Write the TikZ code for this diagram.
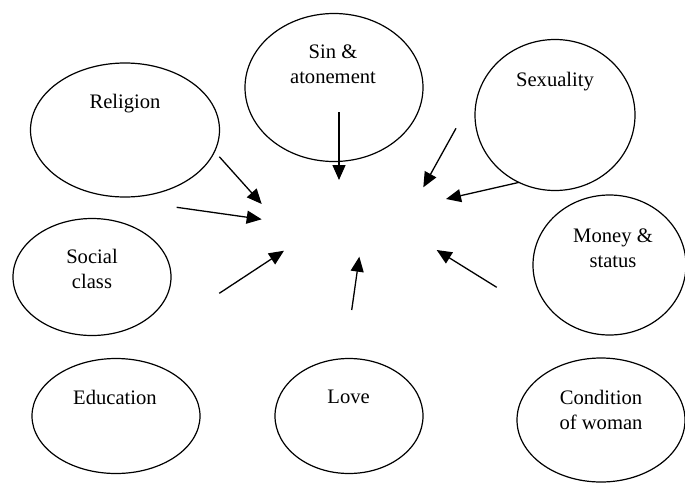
\documentclass[tikz,border=0pt]{standalone}
\usepackage{fontspec}
\setmainfont{Liberation Serif}
\usetikzlibrary{shapes.geometric,arrows.meta}
\begin{document}
\begin{tikzpicture}[x=1pt,y=-1pt,
  bubble/.style={draw, ellipse, line width=1.2pt, inner sep=0pt},
  lbl/.style={align=center, font=\fontsize{20.6}{25}\selectfont, inner sep=0pt},
  arr/.style={line width=1.3pt, -{Triangle[length=15pt,width=13pt]}}]
\useasboundingbox (0,0) rectangle (685,483);
% ellipses
\node[bubble, minimum width=189pt, minimum height=134pt] (rel) at (125,130) {};
\node[bubble, minimum width=178pt, minimum height=148pt] (sin) at (334,87.5) {};
\node[bubble, minimum width=160pt, minimum height=151pt] (sex) at (555,115) {};
\node[bubble, minimum width=153pt, minimum height=140pt] (mon) at (609.5,265) {};
\node[bubble, minimum width=158pt, minimum height=117pt] (soc) at (92,277) {};
\node[bubble, minimum width=168pt, minimum height=115pt] (edu) at (116,416) {};
\node[bubble, minimum width=148pt, minimum height=115pt] (lov) at (349,416) {};
\node[bubble, minimum width=168pt, minimum height=124pt] (con) at (601,420) {};
% labels
\node[lbl] (sint) at (333,64) {Sin \&\\atonement};
\node[lbl] (relt) at (125,104) {Religion};
\node[lbl] (sext) at (555,82) {Sexuality};
\node[lbl] (mont) at (613,248.5) {Money \&\\status};
\node[lbl] (soct) at (92,268.5) {Social\\class};
\node[lbl] (edut) at (115,397) {Education};
\node[lbl] (lovt) at (348.6,397) {Love};
\node[lbl] (cont) at (601,409.5) {Condition\\of woman};
% arrow end points
\coordinate (a1s) at (339,112.3);   \coordinate (a1e) at (339,180);
\coordinate (a2s) at (219.3,156.7); \coordinate (a2e) at (261.7,204);
\coordinate (a3s) at (176.7,207.3); \coordinate (a3e) at (261.7,219.3);
\coordinate (a4s) at (219.3,293.3); \coordinate (a4e) at (284,250.7);
\coordinate (a5s) at (351.7,310);   \coordinate (a5e) at (359.3,256.7);
\coordinate (a6s) at (496.7,287.3); \coordinate (a6e) at (436.7,250);
\coordinate (a7s) at (456,128.3);   \coordinate (a7e) at (423.3,187.3);
\coordinate (a8s) at (519.3,182.3); \coordinate (a8e) at (446,199);
\foreach \i in {1,...,8} { \draw[arr] (a\i s) -- (a\i e); }
\end{tikzpicture}
\end{document}
